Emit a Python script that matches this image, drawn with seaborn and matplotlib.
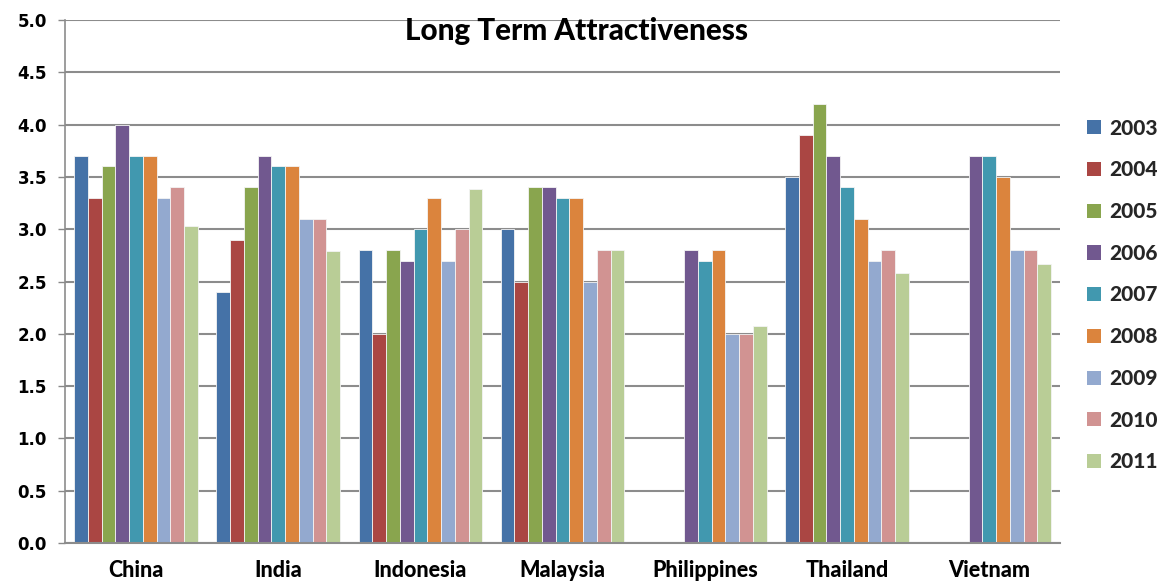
import numpy as np
import pandas as pd
import matplotlib
matplotlib.use("Agg")
import matplotlib.pyplot as plt
import seaborn as sns
from matplotlib.patches import Patch

countries = ["China", "India", "Indonesia", "Malaysia", "Philippines", "Thailand", "Vietnam"]
years = ["2003", "2004", "2005", "2006", "2007", "2008", "2009", "2010", "2011"]
nan = np.nan
y2003 = [3.7, 2.4, 2.8, 3.0, nan, 3.5, nan]
y2004 = [3.3, 2.9, 2.0, 2.5, nan, 3.9, nan]
y2005 = [3.6, 3.4, 2.8, 3.4, nan, 4.2, nan]
y2006 = [4.0, 3.7, 2.7, 3.4, 2.8, 3.7, 3.7]
y2007 = [3.7, 3.6, 3.0, 3.3, 2.7, 3.4, 3.7]
y2008 = [3.7, 3.6, 3.3, 3.3, 2.8, 3.1, 3.5]
y2009 = [3.3, 3.1, 2.7, 2.5, 2.0, 2.7, 2.8]
y2010 = [3.4, 3.1, 3.0, 2.8, 2.0, 2.8, 2.8]
y2011 = [3.03, 2.79, 3.38, 2.8, 2.07, 2.58, 2.67]
series = [y2003, y2004, y2005, y2006, y2007, y2008, y2009, y2010, y2011]

colors = ["#4572A7", "#AA4643", "#89A54E", "#71588F", "#4198AF",
          "#DB843D", "#93A9CF", "#D19392", "#B9CD96"]

rows = []
for yr, vals in zip(years, series):
    for c, v in zip(countries, vals):
        rows.append({"Country": c, "Year": yr, "Score": v})
df = pd.DataFrame(rows)

sns.set_theme(style="white")
plt.rcParams["font.family"] = ["DejaVu Sans"]

fig = plt.figure(figsize=(11.6, 5.83), dpi=100)
ax = fig.add_axes([0.056, 0.0686, 0.858, 0.8971])

sns.barplot(data=df, x="Country", y="Score", hue="Year", order=countries,
            hue_order=years, palette=colors, width=0.87, dodge=True,
            errorbar=None, legend=False, ax=ax, saturation=1,
            edgecolor="#f4f4f4", linewidth=0.6)

ax.set_ylim(0, 5.0)
ax.set_xlim(-0.5, 6.5)
ax.set_yticks(np.arange(0, 5.01, 0.5))
ax.set_yticklabels([f"{v:.1f}" for v in np.arange(0, 5.01, 0.5)],
                   fontsize=12, fontweight="bold", color="black")
ax.set_xticks(range(len(countries)))
ax.set_xticklabels(countries, fontsize=15.5, fontweight=900,
                   family="Lato", color="black")
ax.tick_params(axis="x", length=0, pad=12)
ax.tick_params(axis="y", length=5, width=1, color="#888888", direction="out",
               left=True, pad=8)
ax.set_xlabel("")
ax.set_ylabel("")

ax.yaxis.grid(True, color="#8c8c8c", linewidth=1.5)
ax.set_axisbelow(True)
for s in ["top", "right"]:
    ax.spines[s].set_visible(False)
ax.spines["left"].set_color("#8c8c8c")
ax.spines["left"].set_linewidth(1.2)
ax.spines["bottom"].set_color("#8c8c8c")
ax.spines["bottom"].set_linewidth(1.5)

fig.text(0.497, 0.947, "Long Term Attractiveness",
         ha="center", va="center", fontsize=21.3, fontweight=900,
         family="Lato", color="black")

handles = [Patch(facecolor=col, edgecolor="none") for col in colors]
fig.legend(handles, years, loc="center left", bbox_to_anchor=(0.921, 0.494),
           frameon=False, prop={"family": "Lato", "weight": 900, "size": 15},
           labelspacing=1.09, handlelength=0.67, handleheight=0.67,
           handletextpad=0.4)

fig.savefig("out.png", dpi=100, facecolor="white")
